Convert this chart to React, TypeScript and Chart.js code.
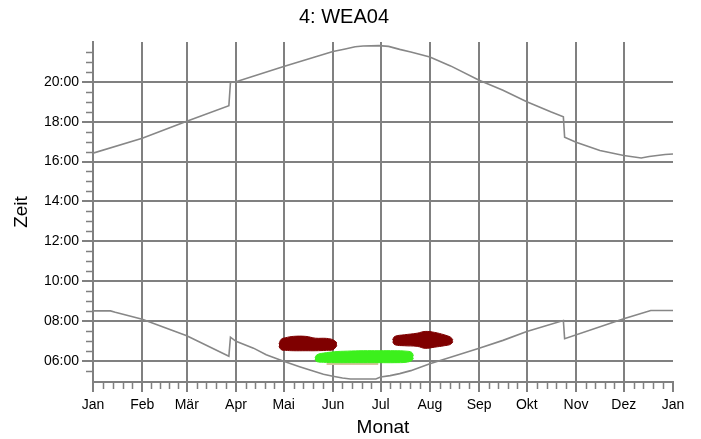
import React, { useEffect, useRef } from 'react';
import { Chart, registerables } from 'chart.js';

Chart.register(...registerables);

const titleText = '4: WEA04';
const xTitle = 'Monat';
const yTitle = 'Zeit';

const monthStarts = [0, 31, 59, 90, 120, 151, 181, 212, 243, 273, 304, 334, 365];
const monthLabels = ['Jan', 'Feb', 'Mär', 'Apr', 'Mai', 'Jun', 'Jul', 'Aug', 'Sep', 'Okt', 'Nov', 'Dez', 'Jan'];
const hourTicks = [6, 8, 10, 12, 14, 16, 18, 20];
const hourLabels = ['06:00', '08:00', '10:00', '12:00', '14:00', '16:00', '18:00', '20:00'];
const hourMinorTicks = [5.5, 6.5, 7, 7.5, 8.5, 9, 9.5, 10.5, 11, 11.5, 12.5, 13, 13.5, 14.5, 15, 15.5, 16.5, 17, 17.5, 18.5, 19, 19.5, 20.5, 21, 21.5];

// Sunset (upper curve)
const sunsetDays = [0, 31, 59, 85.5, 86.5, 90, 120, 151, 158, 165, 170, 180, 186, 193, 200, 212, 225, 243, 258, 273, 288, 296, 296.8, 304, 319, 334, 345, 350, 360, 365];
const sunsetHours = [16.42, 17.17, 18.02, 18.8, 19.97, 20.0, 20.77, 21.52, 21.64, 21.76, 21.8, 21.82, 21.78, 21.63, 21.5, 21.25, 20.8, 20.08, 19.58, 19.0, 18.5, 18.25, 17.22, 16.97, 16.55, 16.3, 16.18, 16.25, 16.35, 16.38];

// Sunrise (lower curve)
const sunriseDays = [0, 11, 14, 31, 59, 85.5, 86.5, 90, 101, 109, 120, 130, 139, 145, 151, 157, 162, 178, 181, 187, 193, 200, 212, 225, 243, 258, 273, 296, 296.8, 334, 351, 365];
const sunriseHours = [8.5, 8.5, 8.43, 8.08, 7.25, 6.22, 7.18, 6.97, 6.63, 6.3, 5.97, 5.7, 5.47, 5.32, 5.22, 5.13, 5.08, 5.08, 5.18, 5.25, 5.35, 5.5, 5.85, 6.17, 6.63, 7.02, 7.47, 8.02, 7.1, 8.1, 8.52, 8.52];

// Shadow period 1 (dark red, May/June)
const red1Days = [117, 118.5, 121, 126, 134, 140, 147, 151, 153.5];
const red1Upper = [6.85, 7.08, 7.15, 7.22, 7.22, 7.13, 7.12, 7.05, 6.9];
const red1Lower = [6.72, 6.55, 6.52, 6.5, 6.5, 6.5, 6.52, 6.55, 6.75];

// Shadow period 2 (dark red, July/August)
const red2Days = [188.5, 190, 196, 204, 209, 215, 221, 225, 226.5];
const red2Upper = [7.05, 7.22, 7.3, 7.38, 7.47, 7.42, 7.3, 7.18, 7.05];
const red2Lower = [6.95, 6.8, 6.75, 6.72, 6.62, 6.68, 6.75, 6.82, 6.95];

// Shadow period 3 (green, June/July)
const greenDays = [139.7, 141, 145, 152, 160, 170, 180, 190, 197, 200.5, 201.7];
const greenUpper = [6.15, 6.3, 6.38, 6.45, 6.48, 6.5, 6.5, 6.5, 6.48, 6.42, 6.25];
const greenLower = [6.05, 5.95, 5.92, 5.9, 5.9, 5.9, 5.9, 5.9, 5.92, 6.0, 6.12];

// Thin tan strip below the green period
const tanDays = [147, 179.5];
const tanHours = [5.85, 5.85];

const GRAY = '#808080';
const CURVE = '#878787';
const RED = '#7f0000';
const GREEN = '#3cf01c';
const TAN = '#d6c39e';
const FONT = '"Liberation Sans", Arial, sans-serif';

const pts = (xs: number[], ys: number[]) => xs.map((x, i) => ({ x, y: ys[i] }));

const xMinorTicks: number[] = [];
for (let m = 0; m < monthStarts.length - 1; m++) {
  const s = monthStarts[m];
  const e = monthStarts[m + 1];
  for (let k = 1; k < 5; k++) xMinorTicks.push(s + (k * (e - s)) / 5);
}

const decorPlugin = {
  id: 'decor',
  afterDraw(chart: any) {
    const { ctx, chartArea, scales } = chart;
    const xs = scales.x;
    const ys = scales.y;
    ctx.save();
    ctx.strokeStyle = GRAY;
    ctx.lineWidth = 1.5;
    ctx.beginPath();
    hourMinorTicks.forEach((v) => {
      const py = Math.round(ys.getPixelForValue(v)) + 0.5;
      ctx.moveTo(chartArea.left - 7, py);
      ctx.lineTo(chartArea.left, py);
    });
    xMinorTicks.forEach((v) => {
      const px = Math.round(xs.getPixelForValue(v)) + 0.5;
      ctx.moveTo(px, chartArea.bottom + 1);
      ctx.lineTo(px, chartArea.bottom + 7);
    });
    ctx.stroke();
    ctx.fillStyle = '#000';
    ctx.font = '20px ' + FONT;
    ctx.textAlign = 'center';
    ctx.textBaseline = 'middle';
    ctx.fillText(titleText, (chartArea.left + chartArea.right) / 2 - 39, 17);
    ctx.restore();
  },
};

function band(days: number[], upper: number[], lower: number[], color: string) {
  return [
    {
      data: pts(days, upper),
      borderColor: color,
      backgroundColor: color,
      borderWidth: 1,
      pointRadius: 0,
      tension: 0.4,
      fill: '+1',
    },
    {
      data: pts(days, lower),
      borderColor: color,
      backgroundColor: color,
      borderWidth: 1,
      pointRadius: 0,
      tension: 0.4,
      fill: false,
    },
  ];
}

export default function App() {
  const ref = useRef<HTMLCanvasElement | null>(null);

  useEffect(() => {
    if (!ref.current) return;
    const chart = new Chart(ref.current, {
      type: 'line',
      data: {
        datasets: [
          ...band(red1Days, red1Upper, red1Lower, RED),
          ...band(red2Days, red2Upper, red2Lower, RED),
          ...band(greenDays, greenUpper, greenLower, GREEN),
          {
            data: pts(tanDays, tanHours),
            borderColor: TAN,
            borderWidth: 2.5,
            pointRadius: 0,
            fill: false,
          },
          {
            data: pts(sunsetDays, sunsetHours),
            borderColor: CURVE,
            borderWidth: 1.6,
            pointRadius: 0,
            fill: false,
            tension: 0,
          },
          {
            data: pts(sunriseDays, sunriseHours),
            borderColor: CURVE,
            borderWidth: 1.6,
            pointRadius: 0,
            fill: false,
            tension: 0,
          },
        ] as any,
      },
      options: {
        animation: false,
        responsive: false,
        devicePixelRatio: 1,
        layout: { padding: { top: 42, right: 28, left: 0, bottom: 0 } },
        plugins: {
          legend: { display: false },
          title: { display: false },
          tooltip: { enabled: false },
        },
        scales: {
          x: {
            type: 'linear',
            min: 0,
            max: 365,
            position: 'bottom',
            afterBuildTicks: (s: any) => {
              s.ticks = monthStarts.map((v) => ({ value: v }));
            },
            afterFit: (s: any) => {
              s.height = 57;
            },
            ticks: {
              autoSkip: false,
              maxRotation: 0,
              padding: 5,
              color: '#000',
              font: { family: FONT, size: 14 },
              callback: (_v: any, i: number) => monthLabels[i],
            },
            grid: {
              color: (c: any) =>
                c.tick && (c.tick.value === 0 || c.tick.value === 365) ? 'rgba(0,0,0,0)' : GRAY,
              tickColor: GRAY,
              lineWidth: 2,
              tickLength: 10,
            },
            border: { display: true, color: GRAY, width: 2 },
            title: {
              display: true,
              text: xTitle,
              color: '#000',
              font: { family: FONT, size: 19 },
              padding: { top: 2, bottom: 0 },
            },
          },
          y: {
            type: 'linear',
            min: 4.93,
            max: 22,
            afterBuildTicks: (s: any) => {
              s.ticks = hourTicks.map((v) => ({ value: v }));
            },
            afterFit: (s: any) => {
              s.width = 93;
            },
            ticks: {
              padding: 3,
              color: '#000',
              font: { family: FONT, size: 14 },
              callback: (_v: any, i: number) => hourLabels[i],
            },
            grid: {
              color: GRAY,
              tickColor: GRAY,
              lineWidth: 2,
              tickLength: 11,
            },
            border: { display: true, color: GRAY, width: 2 },
            title: {
              display: true,
              text: yTitle,
              color: '#000',
              font: { family: FONT, size: 19 },
              padding: { top: 10, bottom: 0 },
            },
          },
        },
      } as any,
      plugins: [decorPlugin],
    });
    return () => chart.destroy();
  }, []);

  return (
    <div style={{ position: 'fixed', left: 0, top: 0, width: 701, height: 439, background: '#fff' }}>
      <canvas ref={ref} width={701} height={439} style={{ display: 'block', width: 701, height: 439 }} />
    </div>
  );
}
